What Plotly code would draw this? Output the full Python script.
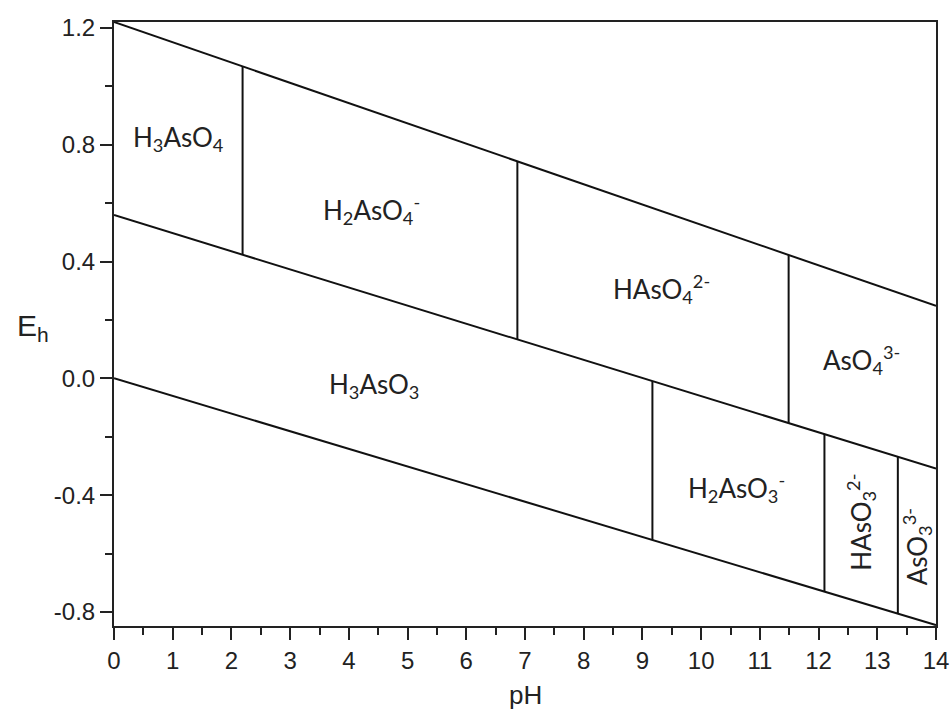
import numpy as np
import plotly.graph_objects as go

# ---- data ----
ph_ends = [0.0, 14.0]
eh_upper = [1.22, 0.248]     # O2 / H2O boundary
eh_mid = [0.559, -0.309]     # As(V) / As(III) boundary
eh_lower = [0.0, -0.845]     # H2O / H2 boundary

ph_as5_bounds = [2.19, 6.87, 11.49]   # As(V) species boundaries
ph_as3_bounds = [9.17, 12.10, 13.35]  # As(III) species boundaries

species = ["H<sub>3</sub>AsO<sub>4</sub>",
           "H<sub>2</sub>AsO<sub>4</sub><sup>-</sup>",
           "HAsO<sub>4</sub><sup>2-</sup>",
           "AsO<sub>4</sub><sup>3-</sup>",
           "H<sub>3</sub>AsO<sub>3</sub>",
           "H<sub>2</sub>AsO<sub>3</sub><sup>-</sup>",
           "HAsO<sub>3</sub><sup>2-</sup>",
           "AsO<sub>3</sub><sup>3-</sup>"]
species_ph = [1.10, 4.38, 9.32, 12.73, 4.43, 10.60, 12.73, 13.68]
species_eh = [0.822, 0.576, 0.305, 0.062, -0.024, -0.376, -0.493, -0.578]
species_angle = [0, 0, 0, 0, 0, 0, -90, -90]

x_ticks = list(range(0, 15))
y_ticks = [-0.8, -0.4, 0.0, 0.4, 0.8, 1.2]
y_tick_text = ["-0.8", "-0.4", "0.0", "0.4", "0.8", "1.2"]

LINE = dict(color="#111111", width=2)
TXT = "#222222"
ARIAL = "Arial, Liberation Sans, sans-serif"

fig = go.Figure()
for eh in (eh_upper, eh_mid, eh_lower):
    fig.add_trace(go.Scatter(x=ph_ends, y=eh, mode="lines", line=LINE,
                             hoverinfo="skip", showlegend=False))

vx, vy = [], []
for p in ph_as5_bounds:
    vx += [p, p, None]
    vy += [float(np.interp(p, ph_ends, eh_mid)), float(np.interp(p, ph_ends, eh_upper)), None]
for p in ph_as3_bounds:
    vx += [p, p, None]
    vy += [float(np.interp(p, ph_ends, eh_lower)), float(np.interp(p, ph_ends, eh_mid)), None]
fig.add_trace(go.Scatter(x=vx, y=vy, mode="lines", line=LINE,
                         hoverinfo="skip", showlegend=False))

for name, px, py, ang in zip(species, species_ph, species_eh, species_angle):
    fig.add_annotation(x=px, y=py, text=name, showarrow=False, textangle=ang,
                       font=dict(family="Lato, Open Sans, sans-serif", size=26, color=TXT),
                       xanchor="center", yanchor="middle")

# y-axis title (upright E with subscript h)
fig.add_annotation(xref="paper", yref="paper", x=-0.098, y=0.495,
                   text="E<sub>h</sub>", showarrow=False, xanchor="center", yanchor="middle",
                   font=dict(family=ARIAL, size=30, color=TXT))

# x-axis title
fig.add_annotation(xref="paper", yref="paper", x=0.5, y=-0.114,
                   text="pH", showarrow=False, xanchor="center", yanchor="middle",
                   font=dict(family=ARIAL, size=26, color=TXT))

AX = dict(showgrid=False, zeroline=False, showline=True, linecolor="#222222", linewidth=2,
          mirror=True, ticks="outside", tickcolor="#222222", tickwidth=2, automargin=False,
          tickfont=dict(family=ARIAL, size=24, color=TXT))

fig.update_xaxes(range=[0, 14], tickvals=x_ticks, ticklen=12,
                 minor=dict(ticks="outside", ticklen=7, tickwidth=2, tickcolor="#222222", dtick=0.5),
                 **AX)
fig.update_yaxes(range=[-0.848, 1.22], tickvals=y_ticks, ticktext=y_tick_text, ticklen=12,
                 minor=dict(ticks="outside", ticklen=7, tickwidth=2, tickcolor="#222222",
                            tickvals=[-0.6, -0.2, 0.2, 0.6, 1.0]),
                 **AX)

fig.update_layout(width=952, height=710, margin=dict(l=114, r=16, t=22, b=84),
                  plot_bgcolor="white", paper_bgcolor="white", showlegend=False)

fig.write_html("out.html")
